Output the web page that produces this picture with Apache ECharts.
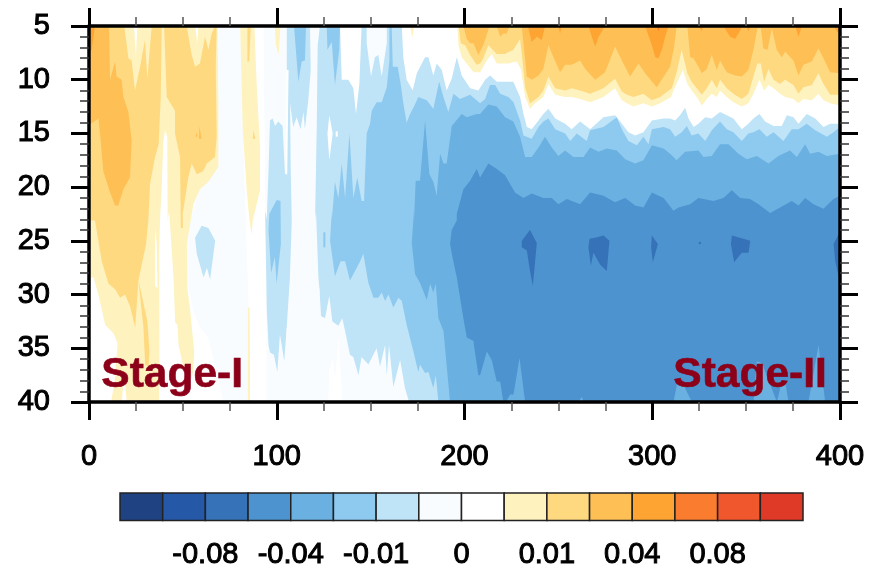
<!DOCTYPE html>
<html>
<head>
<meta charset="utf-8">
<script src="https://cdn.jsdelivr.net/npm/echarts@6/dist/echarts.min.js"></script>
<style>
	html, body { margin: 0; padding: 0; background: #fff; }
	#chart { width: 871px; height: 570px; }
</style>
</head>
<body>
<div id="chart"></div>
<script>
// colour bar
const bandColors = ['#1f4283', '#2559a8', '#3672b8', '#4d93cf', '#6ab0e0', '#8ecaef', '#bfe3f7', '#f8fcff',
	'#ffffff', '#fef2bf', '#fed97f', '#febf55', '#fda433', '#fa7c2e', '#f0572c', '#de3a27']
const barLabels = ['', '-0.08', '-0.04', '-0.01', '0', '0.01', '0.04', '0.08', '']

// contour outlines, [day, depth]
const nearWhiteA = [[68.4,5],[80.5,5],[82,15],[85,31],[85,40],[71.6,40],[63.6,34],[59.2,33.1],[55.6,31.5],[52.4,29],[52.1,25],[54.2,23],[59,20],[68.9,18]]
const nearWhiteB = [[93,5],[105,5],[105,19],[96,24],[94,23]]
const nearWhiteC = [[94.5,30],[170.5,30],[170.5,40],[94.5,40]]

const blue7Main = [[96.4,13.8],[97.8,13.6],[99.1,14.3],[100.8,13.9],[103.1,14.3],[104.4,18.8],[105.6,18.8],[106.3,9.1],[105.3,9.1],[105.3,5],
	[166.6,5],[167.4,7.9],[169.2,10],[172.4,11],[174.6,9.4],[179,7.9],[180.8,7.9],[183.4,9.6],[185.2,8.5],[187.9,9.1],[190.5,11],[193.2,9.9],[195.9,7.9],[198.5,9.6],[203,10.8],[207.4,11],
	[211,10],[213.6,9.6],[217.2,10.2],[223.4,10.2],[226,10.2],[229.6,11.6],[231.4,13.2],[233.2,14.4],[235.8,14.6],[239.4,13.8],[242,13.2],[244.7,12.7],[248.3,13.6],[253.6,14.1],[257.1,14.6],[261.6,13.9],[266.9,14.6],[274,13.5],[280.2,13.3],[283.8,14.1],[287.3,14.9],[290.9,15.2],[295.3,14.9],[299.8,13.8],[306,13.6],
	[309.5,13.6],[312.2,13.8],[314.8,13.3],[317.5,12.6],[319.3,13.6],[322,14.4],[324.6,14.1],[328.2,13.5],[331.7,13.6],[336.1,13],[339.7,13.3],[343.2,13.6],[347.7,14.6],[351.2,14.1],[353.9,13.6],[357.1,13.2],[360.1,13.9],[364.6,14.3],[369,14.3],[371.7,13.3],[375.2,13.5],[377.9,14.1],[382.3,13.2],[386.8,13.6],[391.2,14.4],[394.8,14.1],[400,14.1],
	[400,40],[170.5,40],[168.3,38.7],[165.7,36.1],[162.1,38.6],[159.8,34.7],[158.6,37.5],[157.7,34.7],[155,36.7],[153.2,35],[148.8,36.5],[145.2,35.8],[143.5,37.5],[140.8,35.8],[139,35.6],[136.4,33.4],[134.9,32.2],[132.8,32.9],[129.6,32.5],[128,30.1],[125.7,32.2],[123.6,32],[122.7,29.4],
	[105.3,33.1],[104,36.2],[101.7,33.7],[100.3,37.2],[98.5,35.6],[96.4,35.4],[95.6,34.7],[94.7,31.5],[93.8,22.2],[94.7,23],[95.6,18.5]]
const blue7Blob = [[56.5,24.7],[60,23.6],[63.6,23.8],[67.2,25],[64.5,28.6],[62.8,27.5],[61,28.4],[57.4,26.2]]

const whiteStrip = [[117.7,5],[118.1,9.1],[116.8,11.9],[115,14.6],[114.2,13],[112.7,14.6],[110.6,13.5],[108.8,14.4],[107.1,12.2],[107.4,18.1],[108,23.1],[107,28.4],[105.3,33.1],[104,40],[123,40],[122.7,29.4],[122.2,28.4],[120.9,22.2],[120.4,23.1],[121.3,14.4],[121.8,6.8],[123,5]]
const whiteHangA = [[133.7,5],[134.6,10],[138.1,10],[140.8,10.8],[142.2,13.2],[144,10.4],[145.2,5]]
const nearWhiteHang = [[147.9,5],[147.9,6.6],[150.2,9.7],[152.3,7.9],[154.1,7.7],[155.9,9.7],[158.6,6.6],[158.6,5]]
const whiteOval = [[127,15],[128,13.3],[129.8,15],[128,17.5]]
const whiteDot = [[131.4,14.8],[132.5,14.8],[132.5,15.3],[131.4,15.3]]
const whiteBottom = [[127.5,40],[128,37],[130,36],[131,38],[133,34],[135,40]]

const blue6Main = [[129.3,23.1],[131,19.5],[132.8,21],[134.6,17.8],[136.4,21],[138.7,15],[140.8,21],[142.9,19.1],[145.2,21.3],[146.5,21.3],[147.9,15],[149.7,14.1],[150.6,12.9],[153.2,12.1],[155.9,12.1],[158.6,10.7],[160,8.2],[160,5],[161.2,5],[161.8,8.8],[164.4,8.8],[166,10.4],[167.4,12.2],[169.2,14],[171,13.2],[173.1,12.5],[175.4,11.6],[179.9,11.9],[183.4,12.7],[186.5,10.2],[188.8,11.6],[191.4,13],[194.1,11.3],[197.6,11.8],[203,11.4],[208.3,12.2],
	[211,11.8],[213.6,10.5],[216.3,10.5],[219,11.3],[223.4,11.6],[226.1,12.1],[229.6,13.8],[231.4,15.2],[235.8,15.5],[239.4,14.4],[242,13.9],[244.7,13.6],[248.3,14.6],[253.6,15],[256.3,15.7],[259.8,15],[265.1,15.7],[266.9,14.7],[274,14.4],[281.1,13.5],[283.8,14.6],[287.3,15.7],[291.8,16.1],[295.3,15.3],[298,16],[299.8,14.6],[306,14.4],
	[309.5,14.6],[312.2,15.3],[315.7,14.9],[318.4,14.3],[321,15.2],[324.6,15],[328.2,15.7],[331.7,14.7],[336.1,13.9],[339.7,14.6],[343.2,14.9],[347.7,15.7],[351.2,15],[353.9,14.9],[357.1,14.6],[361,15.3],[364.6,14.9],[369.9,15.7],[374.3,14.6],[377.9,14.6],[382.3,14.1],[386.8,14.7],[393,15.3],[396.5,14.9],[400,14.4],
	[400,40],[186.1,40],[184.7,37.5],[183.4,38.7],[180.8,37.2],[179,37.3],[176.3,36.5],[175.4,37.2],[172.8,35.3],[169.2,32.8],[166.6,30.6],[164.8,30.3],[162.1,31.2],[159.5,30],[157.7,30.6],[155.9,29.8],[154.1,30.3],[151.5,30.3],[148.8,28.9],[146.1,26.2],[144.4,26.9],[142.6,27.5],[139,28.7],[136.4,26.9],[134,26.9],[131,28.3],[128.4,25],[129.3,22.2]]
const blue6TopA = [[109.2,5],[111.5,10.2],[113.3,8.3],[115,8.2],[115.6,5]]
const blue6TopB = [[126.6,5],[127,7.2],[129.3,6.5],[131,10.5],[133.3,7.2],[133.7,5]]
const blue6Left = [[100,21.2],[102,21.3],[102.2,25.3],[99.9,29],[99,26.5],[97,28],[95.6,24],[96,22.5]]
const blue6Dot = [[124.8,24.2],[125.9,24.2],[125.9,25.6],[124.8,25.6]]

const blue5Main = [[173.1,23.1],[174,19.4],[176.3,19.4],[179,13.8],[181.3,18.8],[183.4,19.5],[185.2,20.8],[187,16.9],[188.8,17.8],[190.5,17.8],[193.2,14.3],[198.5,13.2],[201.2,13.5],[206.5,13.2],
	[208.3,13.2],[212.7,12.3],[217.2,12.5],[221.6,13.5],[226,13.9],[229.6,15.3],[232.3,17.2],[235.8,17.2],[239.4,16.3],[242.9,15.3],[246.5,16.3],[250,17.1],[253.6,16.6],[258,17.2],[263.4,17.2],[266.9,16.3],[271.4,16.7],[275.8,16.4],[281.1,16.6],[285.6,17.4],[290.9,17.8],[295.3,17.5],[299.8,16.1],[306,16.4],
	[309.5,16.9],[313,17.5],[317.5,16.7],[324.6,16.6],[327.3,17.2],[331.7,17.1],[336.1,16],[340.6,16],[345.9,16.9],[350.4,17.4],[355.7,17.1],[361.9,17.8],[367.2,17.1],[373.4,16.6],[377,17.2],[381.4,16],[384.1,16.9],[388.5,16.7],[393,17.1],[400,16.9],
	[400,40],[192.3,40],[188.8,33.4],[186.1,32.2],[184.7,29],[183.4,29.8],[181.7,29],[179.9,30.5],[176.3,28.9],[173.7,28.1],[171.9,25.2],[173.1,22.2]]

const blue4Main = [[195.9,22.5],[199.4,20.2],[203,19.4],[206.5,18.3],[208.3,19.1],[212.7,17.8],[217.2,18.3],[221.6,18.9],[224.3,19.7],[226.9,20.5],[231.4,21],[235.8,20.6],[242,21],[246.5,21],[250,21.6],[254.5,21.1],[261.6,21.6],[266.9,20.5],[274,20.8],[280.2,21.4],[285.6,21],[290.9,21.7],[295.3,21.9],[299.8,20.5],[306,21],[311.3,22.2],
	[314,21.9],[320.2,21.6],[324.6,21],[332.6,21.3],[337.9,21],[342.4,20.3],[346.8,21],[352.1,21.1],[356.6,21.6],[362.8,22.4],[368.1,21.9],[374.3,21.3],[377.9,21.7],[381.4,21],[385.9,21.6],[391.2,22],[396.5,21.1],[400,20.8],
	[400,40],[392.1,40],[388.6,34.7],[383.2,40],[372.6,40],[370.8,38.1],[369,38.1],[366.4,40],[358.4,36.4],[355.7,36.2],[353.9,40],[321.1,40],[316.6,38.4],[313.1,38.4],[311.3,40],[263.4,40],[262.5,39.5],[260.7,40],[232.3,40],[229.3,35.9],[226.1,39.3],[224.3,39.3],[222.1,40],[220.7,40],[219,38.1],[217.2,38.1],[214.5,36.1],[211.9,35.3],[208.3,37.5],
	[207.4,37.5],[204.7,34.3],[201.2,34],[199.4,32.2],[195.9,28.4],[193.7,26.6],[192.3,25.3],[193.2,24],[195.9,23.1]]

const blue3A = [[230.5,25],[234.9,24],[238.5,25.2],[236.4,29.2],[234.9,27.8],[233.2,25.9],[230.5,25.6]]
const blue3B = [[266.6,24.8],[269.6,24.7],[274,24.5],[277.2,25],[275.8,27.8],[272.2,27.2],[268.7,26.1],[267.3,27.3],[266,25.6]]
const blue3C = [[299.8,24.5],[303,25.3],[300.3,27],[299.4,25.6]]
const blue3D = [[342.4,24.5],[348.6,24.8],[352.2,25],[351.3,26.1],[347.7,26.1],[343.6,27],[341.9,25.3]]
const blue3E = [[399.2,24.4],[400,24.4],[400,28.9],[397.5,26.9],[396.6,25.3]]
const blue3F = [[324.8,25.1],[325.9,25.1],[325.9,25.3],[324.8,25.3]]

const pale10Left = [[0,5],[24,5],[25,7.9],[25.8,5],[56.5,5],[57.7,6.6],[58.3,5],[68.4,5],[68.9,11.9],[68.9,18.1],[63.6,19.5],[59.1,20.2],[55.6,21.6],[54.2,23.1],[52.1,25.3],[52.4,29.4],[53.9,31.5],[56,35.3],[55.6,36.8],[54.8,37.8],[50.3,36.8],[47.7,34.7],[47.1,32.8],[45.9,32.6],[45,28.4],[42.7,22.2],[41.9,23.1],[41.7,15.3],[40.5,14.7],[39.6,15.7],[38.7,20],[37.8,23.1],[37.4,26.2],[37.5,34.7],[37.4,40],[20.1,40],[18.7,37.2],[17.5,40],[11.8,40],[13.9,37.8],[15.2,34.5],[13,33.6],[8.6,32.8],[5,30],[2.4,28.4],[0,28.4]]
const whiteSliver = [[35.2,23.8],[36.1,25.3],[36.5,29.4],[35.2,29.2]]
const pale10Strip = [[80.5,5],[88.1,5],[89.3,10.4],[91.1,16.3],[91.1,20.3],[87.2,23.1],[86.6,24.4],[85.5,23.1],[84,20.3],[81.9,14.7],[81.3,10.4]]
const pale10Thin = [[84.6,31.2],[85.5,31.2],[85.8,40],[84.6,40]]
const pale10TopA = [[99,5],[102,5],[101,7.7],[99.5,6.7]]
const pale10TopB = [[171,5],[173.1,5],[172.2,6.1]]
const pale10Right = [[196.2,5],[196.8,6.8],[198.5,7.9],[201.2,8.5],[204.8,9.3],[208.3,9.3],[211.9,8.2],[214.5,7.6],[217.2,8.5],[223.4,8.5],[227.8,8.3],[230,9],[232.3,11.6],[234.9,12.7],[237.6,12.2],[242,11.6],[244.7,10.4],[248.3,11.4],[253.6,11.6],[257.1,11.6],[261.6,11.8],[266.9,12.1],[274,11.6],[280.2,10.8],[283.8,11.9],[286.5,12.2],[290,12.5],[295.3,12.2],[299.8,12.5],[304.2,12.2],[310,11.6],
	[311.3,11],[314,10],[316.3,9.1],[318.7,10.4],[321,11],[323.7,11.6],[326.4,12.4],[329,11.8],[331.7,11.3],[334.4,11.6],[336.1,11],[339.7,11.6],[343.2,12.1],[347.7,12.5],[351.2,12.2],[353.9,11.3],[357.1,10],[359.6,11],[361.9,10.5],[364.6,10.8],[368.1,11.3],[370.8,11.6],[375.2,11.8],[377.9,12.2],[380.5,11.8],[385,11.9],[388.5,11.3],[391.2,11.9],[394.8,12.2],[400,12.4],[400,5]]

const yellow11Left = [[0,5],[18.8,5],[21,8],[22.7,8.2],[24.5,11],[27.2,8.8],[29.8,6.3],[31.1,9.9],[33.4,5],[38.7,5],[38.2,11.6],[37.1,16],[35.2,17.2],[32.5,19.7],[31.6,23.1],[30.4,25.3],[26.3,28.7],[24.6,33.1],[21.9,31.1],[19.2,30],[16.6,30.3],[13.9,29.5],[10.4,29],[6.8,26.9],[3.2,23.1],[0,23.1]]
const yellow11Sliver = [[26.3,28.6],[31.1,32.5],[32.2,35.3],[31.7,36.7],[29.9,36.5],[29,33.1]]
const yellow11Mid = [[40,5],[52,5],[54.7,7.7],[56.5,8.8],[59.1,8.5],[61.8,6],[63.6,7.2],[65.4,5.7],[67.1,5],[68,5],[67.5,8.8],[68,15.3],[67.1,17.2],[62.7,17.8],[60.9,18.5],[57.4,18.8],[54.7,17.8],[52.9,19.1],[49.9,22.5],[50,23.8],[48.9,23.8],[48.5,17.2],[45.8,15],[45.8,12.9],[41.4,11.6]]
const yellow11TopA = [[84.4,5],[86.1,5],[85.4,8.3],[84.4,8.3]]
const yellow11DotA = [[87.6,14.7],[88.6,15.5],[87.2,15.5]]
const yellow11Right = [[196.9,5],[198,6.6],[200.3,6.8],[203,7.7],[206.5,8.6],[208.3,8.5],[210,8],[212.7,6.8],[217.2,7.6],[221.6,7.6],[226,7.2],[229.6,6.2],[230.9,8.2],[232.3,10.7],[234.9,12.2],[239.4,11.6],[242,11],[244.7,9.7],[248.3,10.8],[253.6,11],[257.1,10.8],[261.6,11],[266.9,11.3],[274,10.8],[280.2,9.9],[283.8,11.1],[286.5,11.4],[290,11.6],[295.3,11.3],[299.8,11.9],[304.2,11.6],[310.4,10.8],[313,9.3],
	[315.7,7.2],[318.7,9.4],[321,10.2],[323.7,10.8],[326.4,11.4],[329,10.8],[331.7,10],[334.4,10.8],[336.1,10],[339.7,10.8],[343.2,11.3],[347.7,11.8],[351.2,11.3],[353.9,9.7],[356,8.5],[357.8,8.5],[359.6,10.2],[361.9,9],[364.6,10],[368.1,10.4],[370.8,10],[375.2,10.5],[377.9,11.3],[380.5,10.7],[385,10.5],[388.5,9.4],[391.2,10.4],[394.8,11.4],[400,11.4],[400,5]]

const orange12Left = [[0,5],[10.7,5],[11.2,10],[13.9,8.3],[14.7,9.7],[17.4,10],[18.3,11.6],[21,13],[22.7,15.7],[21.8,19.1],[18.3,20.2],[15.6,21.7],[13.9,21.7],[11.2,20.5],[7.6,18.5],[5.9,15],[5,13.6],[1,14.1],[0,14.3]]
const orange12DotA = [[57.4,14.9],[57.7,15.3],[56.7,15.3]]
const orange12DotB = [[58.8,14.3],[59.9,15.5],[58.6,15.5]]
const orange12A = [[199.4,5],[201.2,6.2],[203,6.6],[204.8,6.6],[207.4,7.7],[210,6.8],[211.9,5.8],[213.3,5]]
const orange12B = [[217.2,5],[219,6],[220.7,5.7],[222.5,5.7],[224,5]]
const orange12C = [[230.5,5],[231.4,6.6],[233.2,9.7],[235.8,10],[239.4,9.6],[242,9],[244.7,6.8],[247.4,7.9],[250.9,9.3],[253.6,8.6],[257.1,8.6],[261.6,8.2],[264.3,9],[269.6,10],[274.9,9.3],[280.2,6.9],[283.8,8.2],[288.2,9.7],[292.7,8.5],[296.2,9.4],[302.4,10.7],[309.5,8.8],[311.6,7],[313,5]]
const orange12D = [[318.7,5],[320.2,7.9],[322,8],[324.6,8.8],[326.4,9.4],[329,9],[331.7,7.7],[334.4,9.1],[336.1,8.2],[339.7,9.3],[344.1,9.6],[347.7,9.7],[351.2,9.1],[353.9,7.2],[356,5.2],[357.8,5.2],[359.2,7.1],[361.4,7.2],[363.7,5.2],[366.3,7.2],[369,7.9],[370.8,7.4],[375.2,8.2],[377.9,9.6],[380.5,8.6],[385,8.3],[388.5,7.1],[391.2,8],[394.8,9.3],[400,9.4],[400,5]]

const deep13Corner = [[0,5],[3.2,5],[1.4,7.2],[0,7.6]]
const deep13A = [[233.7,5],[235.8,6.5],[238.5,6],[241.2,6.3],[242.9,5]]
const deep13B = [[250,5],[250.9,5.7],[251.8,5]]
const deep13C = [[266,5],[267.8,6],[269.6,6.9],[271.4,6],[274.9,5]]
const deep13D = [[296.2,5],[299.8,6.8],[301.6,7.9],[303.3,8],[305.1,7.2],[306.9,6],[308.7,5]]
const deep13E = [[324.6,5],[326.4,5.5],[327.3,5]]
const deep13F = [[337.9,5],[341.5,6],[344.1,6.2],[348.2,5]]
const deep13G = [[350,5],[351.2,5.5],[352.5,5]]
const deep13H = [[376.1,5],[377.9,6],[379.7,5]]
const deep13I = [[396.5,5],[399.2,5.7],[399.7,5]]
const deep14Tip = [[302.4,5],[303.3,5.5],[304.2,5]]

// paint order, each one is drawn over the ones before: [outline, index in bandColors]
const layers = [
	[nearWhiteA, 7], [nearWhiteB, 7], [nearWhiteC, 7],
	[blue7Main, 6], [blue7Blob, 6],
	[whiteStrip, 7], [whiteHangA, 8], [nearWhiteHang, 7], [whiteOval, 8], [whiteDot, 8], [whiteBottom, 8],
	[blue6Main, 5], [blue6TopA, 5], [blue6TopB, 5], [blue6Left, 5], [blue6Dot, 5],
	[blue5Main, 4], [blue4Main, 3],
	[blue3A, 2], [blue3B, 2], [blue3C, 2], [blue3D, 2], [blue3E, 2], [blue3F, 2],
	[pale10Left, 9], [whiteSliver, 8], [pale10Strip, 9], [pale10Thin, 9], [pale10TopA, 9], [pale10TopB, 9], [pale10Right, 9],
	[yellow11Left, 10], [yellow11Sliver, 10], [yellow11Mid, 10], [yellow11TopA, 10], [yellow11DotA, 10], [yellow11Right, 10],
	[orange12Left, 11], [orange12DotA, 11], [orange12DotB, 11], [orange12A, 11], [orange12B, 11], [orange12C, 11], [orange12D, 11],
	[deep13Corner, 12], [deep13A, 12], [deep13B, 12], [deep13C, 12], [deep13D, 12], [deep13E, 12], [deep13F, 12], [deep13G, 12], [deep13H, 12], [deep13I, 12],
	[deep14Tip, 13],
]

const labelFont = { color: '#000', fontFamily: 'Liberation Sans', fontSize: 29, textBorderColor: '#000', textBorderWidth: 1 }
const stageFont = { fill: '#8c0019', stroke: '#8c0019', lineWidth: 0.6, font: 'bold 42.5px "Liberation Sans"', verticalAlign: 'middle' }

const chart = echarts.init(document.getElementById('chart'), null, { renderer: 'canvas' })

function frameAxis(extra) {
	return Object.assign({
		type: 'value',
		z: 5,
		axisLine: { show: true, onZero: false, lineStyle: { color: '#000', width: 3.5 } },
		axisTick: { show: true, length: 18, lineStyle: { color: '#000', width: 3 } },
		minorTick: { show: true, length: 9, lineStyle: { color: '#333', width: 1.5 } },
		splitLine: { show: false },
		minorSplitLine: { show: false },
	}, extra)
}

chart.setOption({
	animation: false,
	backgroundColor: '#fff',
	grid: [
		{ left: 89, top: 26, width: 751, height: 376 },
		{ left: 120, top: 493, width: 683, height: 39 },
	],
	xAxis: [
		frameAxis({ gridIndex: 0, position: 'bottom', min: 0, max: 400, interval: 100, minorTick: { show: true, splitNumber: 4, length: 9, lineStyle: { color: '#555', width: 1.5 } }, axisLabel: Object.assign({ margin: 40 }, labelFont) }),
		frameAxis({ gridIndex: 0, position: 'top', min: 0, max: 400, interval: 100, minorTick: { show: true, splitNumber: 4, length: 9, lineStyle: { color: '#555', width: 1.5 } }, axisLabel: { show: false } }),
		{
			type: 'value', gridIndex: 1, min: 0, max: 16, interval: 2,
			axisLine: { show: false }, axisTick: { show: false }, splitLine: { show: false },
			axisLabel: Object.assign({ margin: 20, formatter: v => barLabels[v / 2] }, labelFont),
		},
	],
	yAxis: [
		frameAxis({ gridIndex: 0, position: 'left', min: 5, max: 40, interval: 5, inverse: true, minorTick: { show: true, splitNumber: 5, length: 9, lineStyle: { color: '#333', width: 1.5 } }, axisLabel: Object.assign({ margin: 39 }, labelFont) }),
		frameAxis({ gridIndex: 0, position: 'right', min: 5, max: 40, interval: 5, inverse: true, minorTick: { show: true, splitNumber: 5, length: 9, lineStyle: { color: '#333', width: 1.5 } }, axisLabel: { show: false } }),
		{ type: 'value', gridIndex: 1, min: 0, max: 1, show: false },
	],
	series: [
		{
			type: 'custom',
			xAxisIndex: 0,
			yAxisIndex: 0,
			clip: true,
			silent: true,
			progressive: 0,
			encode: { x: 0, y: 1 },
			data: layers.map(l => l[0][0]),
			renderItem: function (params, api) {
				const layer = layers[params.dataIndex]
				return {
					type: 'polygon',
					shape: { points: layer[0].map(p => api.coord(p)) },
					style: { fill: bandColors[layer[1]] },
				}
			},
		},
		{
			type: 'custom',
			xAxisIndex: 2,
			yAxisIndex: 2,
			silent: true,
			progressive: 0,
			encode: { x: 0, y: 1 },
			data: bandColors.map((c, i) => [i, 0]),
			renderItem: function (params, api) {
				const a = api.coord([params.dataIndex, 0])
				const b = api.coord([params.dataIndex + 1, 1])
				return {
					type: 'rect',
					shape: { x: a[0], y: b[1], width: b[0] - a[0], height: a[1] - b[1] },
					style: { fill: bandColors[params.dataIndex], stroke: '#222', lineWidth: 1.5 },
				}
			},
		},
	],
	graphic: [
		{ type: 'text', z: 10, left: 101, top: 353, style: Object.assign({ text: 'Stage-I' }, stageFont) },
		{ type: 'text', z: 10, left: 673, top: 353, style: Object.assign({ text: 'Stage-II' }, stageFont) },
	],
})
</script>
</body>
</html>
